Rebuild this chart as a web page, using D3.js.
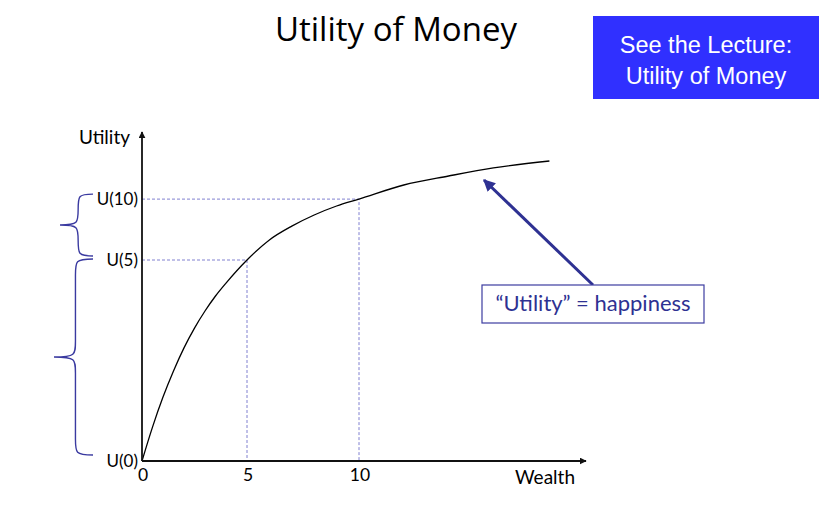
<!DOCTYPE html>
<html>
<head>
<meta charset="utf-8">
<script src="https://cdn.jsdelivr.net/npm/d3@7"></script>
<style>
  html, body { margin: 0; padding: 0; background: #fff; }
  svg { display: block; }
</style>
</head>
<body>
<svg id="chart" width="838" height="517"></svg>
<script>
// ---- data ----
const wealth  = [0, 0.5, 1, 1.5, 2, 2.5, 3, 3.5, 4, 5, 6, 7, 8, 9, 10, 12, 14, 16, 18.5];
const utility = [0, 11.3, 21.3, 30, 37.7, 44.3, 50, 55, 59.3, 67, 73.7, 78.3, 82, 85, 87.3, 92, 95, 97.7, 100];
const markedWealth = [5, 10];
const markedUtility = [67, 87.3];
const xTickValues = [0, 5, 10];
const xTickLabels = ["0", "5", "10"];
const yTickValues = [0, 67, 87.3];
const yTickLabels = ["U(0)", "U(5)", "U(10)"];
const titleText = "Utility of Money";
const boxLines = ["See the Lecture:", "Utility of Money"];
const calloutText = "\u201CUtility\u201D = happiness";
const xAxisTitle = "Wealth";
const yAxisTitle = "Utility";

// ---- setup ----
const svg = d3.select("#chart");
const x = d3.scaleLinear().domain([0, 5, 10]).range([142, 247, 359]);
const y = d3.scaleLinear().domain([0, 100]).range([461, 161]);
const navy = "#2e3192";
const font = "Lato, 'Open Sans', sans-serif";

const defs = svg.append("defs");
defs.append("marker").attr("id", "axArrow").attr("viewBox", "0 0 10 10")
  .attr("refX", 9).attr("refY", 5).attr("markerWidth", 7).attr("markerHeight", 7)
  .attr("markerUnits", "userSpaceOnUse").attr("orient", "auto")
  .append("path").attr("d", "M0,0 L10,5 L0,10 z").attr("fill", "#111");
defs.append("marker").attr("id", "navyArrow").attr("viewBox", "0 0 10 10")
  .attr("refX", 9).attr("refY", 5).attr("markerWidth", 12).attr("markerHeight", 12)
  .attr("markerUnits", "userSpaceOnUse").attr("orient", "auto")
  .append("path").attr("d", "M0,0 L10,5 L0,10 z").attr("fill", navy);

// ---- title ----
svg.append("text").attr("x", 396).attr("y", 41).attr("text-anchor", "middle")
  .style("font-family", "'Open Sans', Lato, sans-serif").style("font-size", "33px").style("fill", "#000")
  .text(titleText);

// ---- blue box ----
svg.append("rect").attr("x", 593).attr("y", 16).attr("width", 226).attr("height", 83).attr("fill", "#3030ff");
svg.selectAll("text.box").data(boxLines).join("text").attr("class", "box")
  .attr("x", 706).attr("y", (d, i) => 53 + i * 31).attr("text-anchor", "middle")
  .style("font-family", "'Liberation Sans', Arial, sans-serif").style("font-size", "23.5px").style("fill", "#fff")
  .text(d => d);

// ---- dashed guides ----
const guides = svg.append("g").attr("stroke", "#8080d0").attr("stroke-width", 1)
  .attr("stroke-dasharray", "3,2").attr("fill", "none");
markedWealth.forEach((w, i) => {
  guides.append("path").attr("d", d3.line()([
    [x(0), y(markedUtility[i])], [x(w), y(markedUtility[i])], [x(w), y(0)]
  ]));
});

// ---- curve ----
const pts = wealth.map((w, i) => [w, utility[i]]);
svg.append("path").datum(pts)
  .attr("d", d3.line().x(d => x(d[0])).y(d => y(d[1])).curve(d3.curveMonotoneX))
  .attr("fill", "none").attr("stroke", "#000").attr("stroke-width", 1.3);

// ---- axes ----
svg.append("line").attr("x1", x(0)).attr("y1", y(0)).attr("x2", x(0)).attr("y2", 132)
  .attr("stroke", "#111").attr("stroke-width", 1.8).attr("marker-end", "url(#axArrow)");
svg.append("line").attr("x1", x(0)).attr("y1", y(0)).attr("x2", 586).attr("y2", y(0))
  .attr("stroke", "#111").attr("stroke-width", 1.8).attr("marker-end", "url(#axArrow)");

svg.selectAll("text.xt").data(xTickValues).join("text").attr("class", "xt")
  .attr("x", d => x(d) + 1).attr("y", 481).attr("text-anchor", "middle")
  .style("font-family", font).style("font-size", "17.5px").style("fill", "#000")
  .text((d, i) => xTickLabels[i]);
svg.selectAll("text.yt").data(yTickValues).join("text").attr("class", "yt")
  .attr("x", 138).attr("y", d => y(d)).attr("dy", "0.35em").attr("text-anchor", "end")
  .style("font-family", font).style("font-size", "17px").style("fill", "#000")
  .text((d, i) => yTickLabels[i]);

svg.append("text").attr("x", 575).attr("y", 484).attr("text-anchor", "end")
  .style("font-family", font).style("font-size", "19px").style("fill", "#000").text(xAxisTitle);
svg.append("text").attr("x", 130).attr("y", 144).attr("text-anchor", "end")
  .style("font-family", font).style("font-size", "19px").style("fill", "#000").text(yAxisTitle);

// ---- braces ----
function brace(xEnd, xTip, y0, y1) {
  const m = (y0 + y1) / 2, s = xTip + (xEnd - xTip) * 0.55, r = Math.min(16, (y1 - y0) / 4);
  return `M${xEnd},${y0} C${s},${y0} ${s},${y0 + 2} ${s},${y0 + r}` +
    ` L${s},${m - r} C${s},${m - 2} ${s},${m} ${xTip},${m}` +
    ` C${s},${m} ${s},${m + 2} ${s},${m + r}` +
    ` L${s},${y1 - r} C${s},${y1 - 2} ${s},${y1} ${xEnd},${y1}`;
}
svg.append("path").attr("d", brace(93, 60, y(markedUtility[1]) - 5, y(markedUtility[0]) - 4))
  .attr("fill", "none").attr("stroke", "#3a3aa0").attr("stroke-width", 1.4);
svg.append("path").attr("d", brace(93, 54, y(markedUtility[0]) - 1, y(0) - 6))
  .attr("fill", "none").attr("stroke", "#3a3aa0").attr("stroke-width", 1.4);

// ---- callout ----
svg.append("line").attr("x1", 593).attr("y1", 285).attr("x2", 484).attr("y2", 180)
  .attr("stroke", navy).attr("stroke-width", 3).attr("marker-end", "url(#navyArrow)");
svg.append("rect").attr("x", 482).attr("y", 285).attr("width", 222).attr("height", 38)
  .attr("fill", "#fff").attr("stroke", "#3c3ca0").attr("stroke-width", 1.2);
svg.append("text").attr("x", 593).attr("y", 311).attr("text-anchor", "middle")
  .style("font-family", font).style("font-size", "22px").style("fill", navy).text(calloutText);
</script>
</body>
</html>
